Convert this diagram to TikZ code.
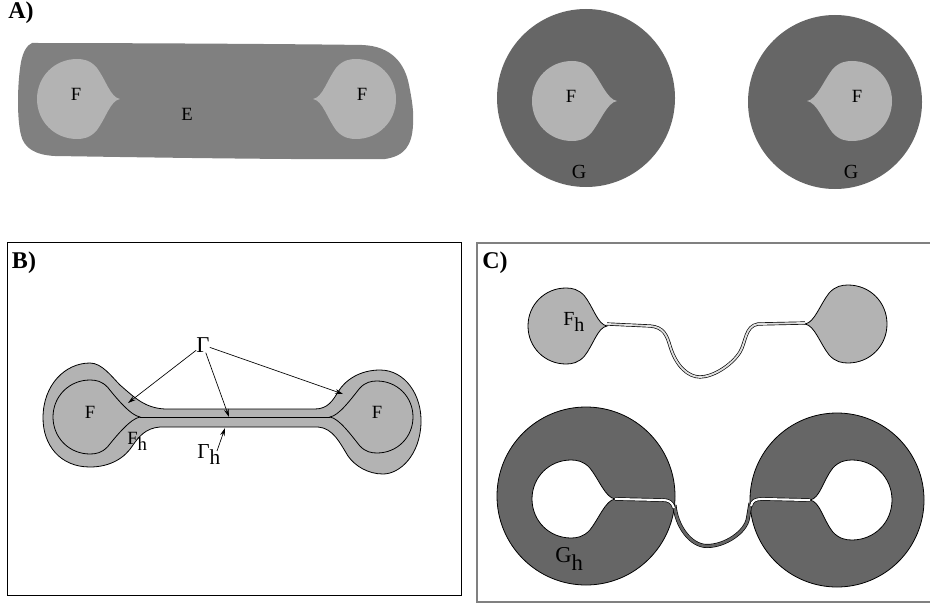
\documentclass[tikz,border=0pt]{standalone}
\usepackage{fontspec}
\setmainfont{Liberation Serif}
\usetikzlibrary{arrows.meta}
\definecolor{lgray}{HTML}{B3B3B3}
\definecolor{mgray}{HTML}{808080}
\definecolor{dgray}{HTML}{666666}
% blob with a cusp pointing to +x; #1 = radius, #2 = cusp distance
\newcommand{\blobpath}[2]{(#2,0) .. controls ({#2-0.25*#1},{-0.04*#1}) and ({0.72*#1},{-0.5*#1}) .. ({0.48*#1},{-0.8*#1}) .. controls ({0.32*#1},{-0.97*#1}) and ({0.16*#1},{-#1}) .. (0,-#1) .. controls ({-0.56*#1},-#1) and (-#1,{-0.56*#1}) .. (-#1,0) .. controls (-#1,{0.56*#1}) and ({-0.56*#1},#1) .. (0,#1) .. controls ({0.16*#1},#1) and ({0.32*#1},{0.97*#1}) .. ({0.48*#1},{0.8*#1}) .. controls ({0.72*#1},{0.5*#1}) and ({#2-0.25*#1},{0.04*#1}) .. (#2,0) -- cycle}
\newcommand{\subh}[1]{\raisebox{-#1}{h}}
\begin{document}
\begin{tikzpicture}[x=0.75pt,y=-0.75pt,
  lbl/.style={font=\fontsize{14}{16}\selectfont, inner sep=0pt},
  panel/.style={font=\fontsize{18}{20}\selectfont\bfseries, inner sep=0pt},
  outl/.style={draw=black, line width=0.6pt},
  arr/.style={-{Stealth[length=6pt,width=3.5pt]}, line width=0.5pt},
  frameB/.style={draw=black, line width=0.7pt},
  frameC/.style={draw=gray, line width=1.1pt}]
\useasboundingbox (0,0) rectangle (930,606);

% ---------------- Panel A ----------------
\node[panel] (lA) at (21,13) {A)};
\fill[mgray] (32,43) .. controls (120,43) and (300,44) .. (362,45)
  .. controls (392,46) and (405,64) .. (409,85)
  .. controls (412,100) and (414,112) .. (413,125)
  .. controls (412,145) and (405,156) .. (385,159)
  .. controls (300,160) and (120,157) .. (55,156)
  .. controls (35,155) and (24,148) .. (21,135)
  .. controls (17,120) and (17,85) .. (21,62)
  .. controls (23,52) and (27,45) .. (32,43) -- cycle;
\begin{scope}[shift={(77,99)}] \fill[lgray] \blobpath{40}{43}; \end{scope}
\begin{scope}[shift={(356,99)},xscale=-1] \fill[lgray] \blobpath{40}{43}; \end{scope}
\node[lbl] (fa1) at (76,94) {F};
\node[lbl] (fa2) at (362,94) {F};
\node[lbl] (ea) at (187,114) {E};

\fill[dgray] (586,98) circle[radius=66.75pt];
\fill[dgray] (835,102) circle[radius=65.25pt];
\begin{scope}[shift={(572,101)}] \fill[lgray] \blobpath{40}{45}; \end{scope}
\begin{scope}[shift={(852,101)},xscale=-1] \fill[lgray] \blobpath{40}{45}; \end{scope}
\node[lbl] (fg1) at (571,96) {F};
\node[lbl] (fg2) at (857,96) {F};
\node[lbl, font=\fontsize{15}{17}\selectfont] (g1) at (579,172) {G};
\node[lbl, font=\fontsize{15}{17}\selectfont] (g2) at (851,172) {G};

% ---------------- Panel B ----------------
\draw[frameB] (7,242) rectangle (461,595);
\node[panel] (lB) at (24,263) {B)};
\path[fill=lgray, outl] (120,385) .. controls (135,398) and (145,408) .. (165,409)
  -- (315,409) .. controls (328,409) and (333,400) .. (338,392)
  .. controls (345,380) and (360,370) .. (380,370)
  .. controls (405,370) and (422,395) .. (421,423)
  .. controls (420,455) and (400,474) .. (383,474)
  .. controls (368,474) and (355,466) .. (348,456)
  .. controls (340,443) and (333,428) .. (318,427)
  -- (160,427) .. controls (145,428) and (138,438) .. (133,445)
  .. controls (125,458) and (110,467) .. (90,467)
  .. controls (60,467) and (43,445) .. (43,418)
  .. controls (43,385) and (65,363) .. (90,363)
  .. controls (102,363) and (112,377) .. (120,385) -- cycle;
\begin{scope}[shift={(90,417)}] \draw[outl] \blobpath{37}{50}; \end{scope}
\begin{scope}[shift={(377,417)},xscale=-1] \draw[outl] \blobpath{36}{47}; \end{scope}
\coordinate (cuspL) at (140,417);
\coordinate (cuspR) at (330,417);
\draw[outl] (cuspL) -- (cuspR);
\node[lbl] (fb1) at (90,412) {F};
\node[lbl] (fb2) at (377,412) {F};
\node[lbl, anchor=base west] (fhb) at (127,444) {F\subh{4.5pt}};
\node[lbl, font=\fontsize{17}{19}\selectfont] (gam) at (203,345) {Γ};
\coordinate (t1) at (128,403);
\coordinate (t2) at (229,417);
\coordinate (t3) at (343,394);
\coordinate (t4) at (225,428);
\draw[arr] (gam) -- (t1);
\draw[arr] (gam) -- (t2);
\draw[arr] (gam) -- (t3);
\node[lbl, anchor=base west, font=\fontsize{16}{18}\selectfont] (gamh) at (197,458) {Γ\subh{5pt}};
\coordinate (gs) at (217,451);
\draw[arr] (gs) -- (t4);

% ---------------- Panel C ----------------
\draw[frameC] (477,243) rectangle (934,602);
\node[panel] (lC) at (495,263) {C)};
% top: F_h
\begin{scope}[shift={(566,326)}] \path[fill=lgray, outl] \blobpath{38}{41}; \end{scope}
\begin{scope}[shift={(848,324)},xscale=-1] \path[fill=lgray, outl] \blobpath{39}{43}; \end{scope}
\coordinate (nL) at (607,324);
\coordinate (nR) at (805,323);
\draw[line width=0.5pt, double=gray!25, double distance=1.4pt] (nL) -- (650,326)
  .. controls (664,327) and (667,336) .. (670,346)
  .. controls (676,366) and (688,377) .. (700,377)
  .. controls (713,377) and (732,365) .. (740,352)
  .. controls (746,342) and (745,326) .. (758,324) -- (nR);
\node[lbl, anchor=base west, font=\fontsize{15}{17}\selectfont] (fhc) at (563,325) {F\subh{5pt}};
% bottom: G_h
\path[fill=dgray, outl] (586,496) circle[radius=66.75pt];
\path[fill=dgray, outl] (837,500) circle[radius=65.25pt];
\begin{scope}[shift={(571,499)}] \path[fill=white, outl] \blobpath{39}{44}; \end{scope}
\begin{scope}[shift={(852,500)},xscale=-1] \path[fill=white, outl] \blobpath{40}{42}; \end{scope}
\coordinate (gnL) at (674.5,505);
\coordinate (gnR) at (750.5,503);
\draw[line width=0.5pt, double=dgray, double distance=2pt] (gnL)
  .. controls (676,525) and (690,546) .. (707,546)
  .. controls (725,546) and (746,532) .. (748,518) -- (gnR);
\coordinate (sL) at (615,499);
\coordinate (sR) at (810,500);
\draw[line width=0.5pt, double=white, double distance=1.6pt] (sL) -- (662,500)
  .. controls (669,500) and (672,502) .. (674,508);
\draw[line width=0.5pt, double=white, double distance=1.6pt] (sR) -- (762,499)
  .. controls (755,499) and (752,501) .. (751,506);
\node[lbl, anchor=base west, font=\fontsize{17}{19}\selectfont] (ghc) at (555,562) {G\subh{6pt}};
\end{tikzpicture}
\end{document}
